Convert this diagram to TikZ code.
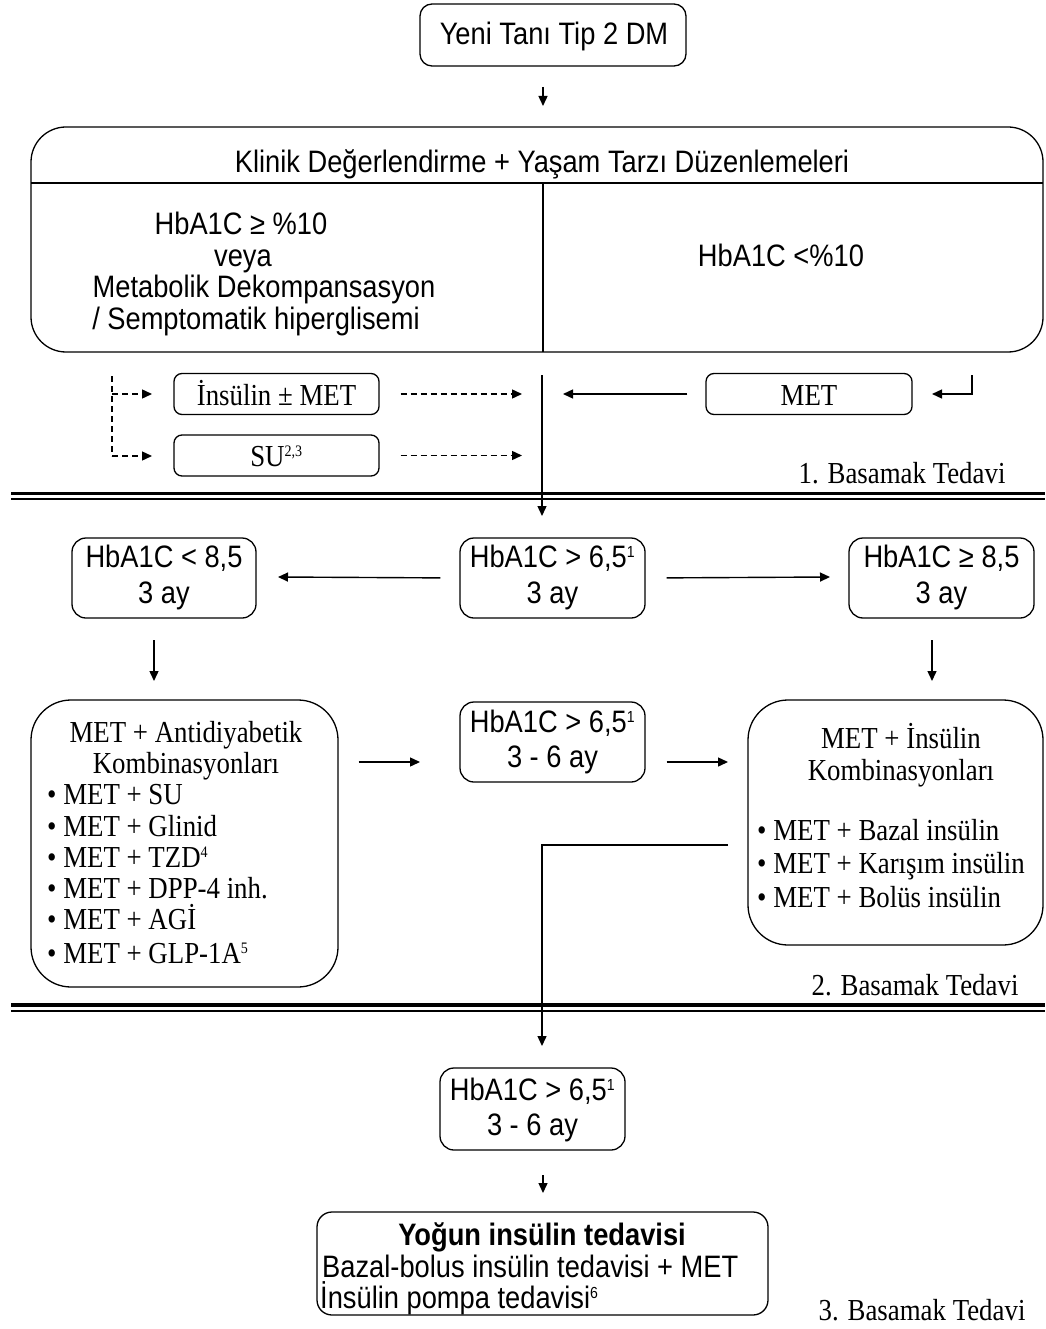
\documentclass[tikz,border=0pt]{standalone}
\usepackage{fontspec}
\setmainfont{Liberation Serif}[FakeStretch=0.88]
\setsansfont{Liberation Sans}[FakeStretch=0.88]
\usetikzlibrary{arrows.meta}

\tikzset{
  box/.style={draw, line width=1.3pt, inner sep=0pt, rounded corners=#1},
  box/.default=12pt,
  sans/.style={font=\sffamily\fontsize{31}{36}\selectfont, inner sep=0pt},
  sansb/.style={font=\sffamily\bfseries\fontsize{31}{36}\selectfont, inner sep=0pt},
  serif/.style={font=\fontsize{30.5}{36}\selectfont, inner sep=0pt},
  conn/.style={line width=1.4pt, -{Triangle[length=10pt,width=9pt]}},
  dconn/.style={conn, dash pattern=on 6pt off 4pt},
  rule/.style={line width=#1},
}
\newcommand{\fnote}[1]{\textsuperscript{\fontsize{16}{16}\selectfont #1}}

\begin{document}
\begin{tikzpicture}[x=1pt,y=-1pt]
\useasboundingbox (0,0) rectangle (1045,1329);

% ---------- start ----------
\node[box=12pt, minimum width=266pt, minimum height=62pt] (start) at (553,35) {};
\node[sans, anchor=base] (startt) at (554,45) {Yeni Tanı Tip 2 DM};

\coordinate (a1) at (543,87);
\coordinate (a2) at (543,106);
\draw[conn] (a1) -- (a2);

% ---------- clinical evaluation ----------
\node[box=35pt, minimum width=1012pt, minimum height=225pt] (eval) at (537,239.5) {};
\coordinate (hl) at (31,183);
\coordinate (hr) at (1043,183);
\coordinate (vt) at (543,183);
\coordinate (vb) at (543,352);
\draw[line width=1.3pt] (hl) -- (hr);
\draw[line width=1.3pt] (vt) -- (vb);
\node[sans, anchor=base] (evalt) at (542,173) {Klinik Değerlendirme + Yaşam Tarzı Düzenlemeleri};
\node[sans, anchor=base] (l1) at (241,235) {HbA1C ≥ \%10};
\node[sans, anchor=base] (l2) at (243,267) {veya};
\node[sans, anchor=base] (l3) at (264,298) {Metabolik Dekompansasyon};
\node[sans, anchor=base] (l4) at (256,329) {/ Semptomatik hiperglisemi};
\node[sans, anchor=base] (r1) at (781,267) {HbA1C <\%10};

% ---------- step 1 ----------
\node[box=8pt, minimum width=205pt, minimum height=41pt] (ins) at (276.5,394) {};
\node[serif, anchor=base] (inst) at (276.5,405) {İnsülin ± MET};
\node[box=8pt, minimum width=205pt, minimum height=41pt] (su) at (276.5,455.5) {};
\node[serif, anchor=base] (sut) at (276.5,466) {SU\fnote{2,3}};
\node[box=8pt, minimum width=206pt, minimum height=41pt] (met) at (809,394) {};
\node[serif, anchor=base] (mett) at (809,405) {MET};

\coordinate (dtop) at (112,376);
\coordinate (dmid) at (112,394);
\coordinate (dbot) at (112,456);
\coordinate (dins) at (152,394);
\coordinate (dsu) at (152,456);
\draw[line width=1.3pt, dash pattern=on 6pt off 4pt] (dtop) -- (dbot);
\draw[dconn] (dmid) -- (dins);
\draw[dconn] (dbot) -- (dsu);

\coordinate (e1) at (522,394);
\coordinate (e2) at (522,455.5);
\draw[dconn, shorten <=21pt] (ins.east) -- (e1);
\draw[dconn, shorten <=21pt] (su.east) -- (e2);

\coordinate (m1) at (563,394);
\draw[conn, shorten <=18pt] (met.west) -- (m1);

\coordinate (k1) at (972,375);
\coordinate (k2) at (932,394);
\draw[conn] (k1) |- (k2);

\coordinate (c1) at (542,375);
\coordinate (c2) at (542,516);
\draw[conn] (c1) -- (c2);

\node[serif, anchor=base] (step1) at (902,483) {1. Basamak Tedavi};
\draw[rule=3.5pt] (11,493.5) -- (1045,493.5);
\draw[rule=2pt] (11,499.2) -- (1045,499.2);
\draw[line width=1.4pt] (542,490) -- (542,502);

% ---------- step 2 ----------
\node[box=14pt, minimum width=184pt, minimum height=80pt] (lo) at (164,578) {};
\node[sans, anchor=base] (lo1) at (164,567) {HbA1C < 8,5};
\node[sans, anchor=base] (lo2) at (164,603) {3 ay};
\node[box=14pt, minimum width=185pt, minimum height=80pt] (mid) at (552.5,578) {};
\node[sans, anchor=base] (mid1) at (552.5,567) {HbA1C > 6,5\fnote{1}};
\node[sans, anchor=base] (mid2) at (552.5,603) {3 ay};
\node[box=14pt, minimum width=185pt, minimum height=80pt] (hi) at (941.5,578) {};
\node[sans, anchor=base] (hi1) at (941.5,567) {HbA1C ≥ 8,5};
\node[sans, anchor=base] (hi2) at (941.5,603) {3 ay};

\coordinate (p1) at (278,577);
\coordinate (p2) at (830,577);
\draw[conn, shorten <=19pt] (mid.west) -- (p1);
\draw[conn, shorten <=21pt] (mid.east) -- (p2);
\coordinate (q1) at (154,640);
\coordinate (q2) at (154,681);
\coordinate (q3) at (932,640);
\coordinate (q4) at (932,681);
\draw[conn] (q1) -- (q2);
\draw[conn] (q3) -- (q4);

% combinations with oral agents
\node[box=40pt, minimum width=307pt, minimum height=287pt] (oral) at (184.5,843.5) {};
\node[serif, anchor=base] (o1) at (186,742) {MET + Antidiyabetik};
\node[serif, anchor=base] (o2) at (186,773) {Kombinasyonları};
\node[serif, anchor=base west] (o3) at (47,804) {• MET + SU};
\node[serif, anchor=base west] (o4) at (47,836) {• MET + Glinid};
\node[serif, anchor=base west] (o5) at (47,867) {• MET + TZD\fnote{4}};
\node[serif, anchor=base west] (o6) at (47,898) {• MET + DPP-4 inh.};
\node[serif, anchor=base west] (o7) at (47,929) {• MET + AGİ};
\node[serif, anchor=base west] (o8) at (47,963) {• MET + GLP-1A\fnote{5}};

\node[box=14pt, minimum width=185pt, minimum height=80pt] (mid3) at (552.5,742) {};
\node[sans, anchor=base] (mid31) at (552.5,732) {HbA1C > 6,5\fnote{1}};
\node[sans, anchor=base] (mid32) at (552.5,767) {3 - 6 ay};

\coordinate (s1) at (420,762);
\coordinate (s2) at (728,762);
\draw[conn, shorten <=20pt] (oral.east |- s1) -- (s1);
\draw[conn, shorten <=21pt] (mid3.east |- s2) -- (s2);

% combinations with insulin
\node[box=40pt, minimum width=295pt, minimum height=245pt] (insc) at (895.5,822.5) {};
\node[serif, anchor=base] (i1) at (901,748) {MET + İnsülin};
\node[serif, anchor=base] (i2) at (901,780) {Kombinasyonları};
\node[serif, anchor=base west] (i3) at (757,840) {• MET + Bazal insülin};
\node[serif, anchor=base west] (i4) at (757,873) {• MET + Karışım insülin};
\node[serif, anchor=base west] (i5) at (757,907) {• MET + Bolüs insülin};

\coordinate (t1) at (728,845);
\coordinate (t2) at (542,845);
\coordinate (t3) at (542,1046);
\draw[conn] (t1) -- (t2) -- (t3);

\node[serif, anchor=base] (step2) at (915,995) {2. Basamak Tedavi};
\draw[rule=3.8pt] (11,1005.3) -- (1045,1005.3);
\draw[rule=2.2pt] (11,1011.2) -- (1045,1011.2);
\draw[line width=1.4pt] (542,1002) -- (542,1015);

% ---------- step 3 ----------
\node[box=14pt, minimum width=185pt, minimum height=82pt] (last) at (532.5,1109) {};
\node[sans, anchor=base] (last1) at (532.5,1100) {HbA1C > 6,5\fnote{1}};
\node[sans, anchor=base] (last2) at (532.5,1135) {3 - 6 ay};

\coordinate (u1) at (543,1175);
\coordinate (u2) at (543,1193);
\draw[conn] (u1) -- (u2);

\node[box=15pt, minimum width=451pt, minimum height=103pt] (int) at (542.5,1263.5) {};
\node[sansb, anchor=base] (int1) at (542,1245) {Yoğun insülin tedavisi};
\node[sans, anchor=base west] (int2) at (322,1277) {Bazal-bolus insülin tedavisi + MET};
\node[sans, anchor=base west] (int3) at (320,1308) {İnsülin pompa tedavisi\fnote{6}};

\node[serif, anchor=base] (step3) at (922,1320) {3. Basamak Tedavi};
\end{tikzpicture}
\end{document}
